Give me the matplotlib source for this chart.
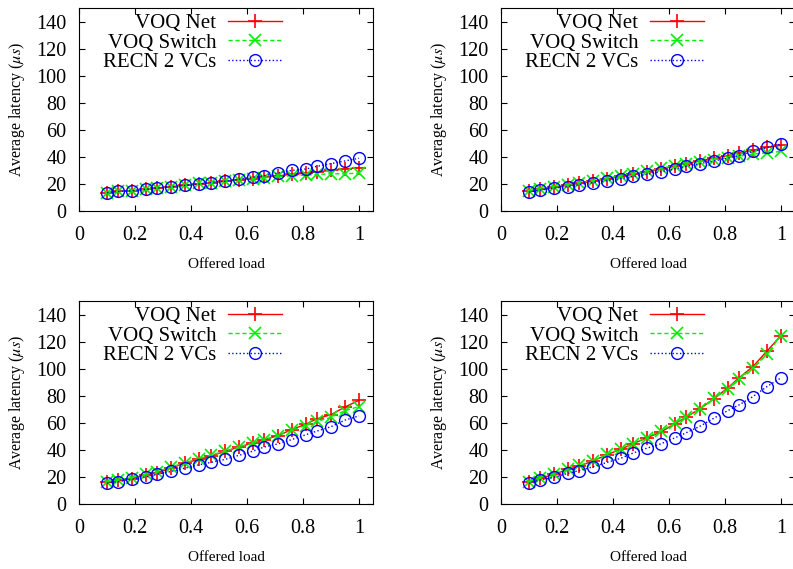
import matplotlib.pyplot as plt

plt.rcParams['font.family'] = ['Liberation Serif', 'DejaVu Serif']
plt.rcParams['mathtext.fontset'] = 'stix'

# offered load
load = [0.10, 0.14, 0.19, 0.24, 0.28, 0.33, 0.38, 0.43, 0.47, 0.52,
        0.57, 0.62, 0.66, 0.71, 0.76, 0.81, 0.85, 0.90, 0.95, 1.00]

# top-left
voq_net_a = [13.5, 14.5, 15, 16, 17, 18, 19, 20, 21, 22,
             23, 24, 25, 26, 27, 28, 29, 30, 31, 32]
voq_sw_a = [13.5, 14.5, 15, 16, 17, 18, 19, 20.5, 21, 22,
            23, 24, 24.5, 25.5, 26, 26.5, 27, 27.5, 27.5, 28]
recn_a = [13.5, 14.5, 15, 16, 17, 18, 19, 20, 21, 22,
          23.5, 25, 26, 28, 30, 31, 33, 35, 37, 39]

# top-right
voq_net_b = [14.5, 16, 17.5, 19, 20.5, 22, 24, 25.5, 27, 29,
             31, 33, 35, 37, 39, 41, 43, 45, 47, 48.5]
voq_sw_b = [15, 16.5, 18, 19.5, 21, 22.5, 24.5, 26, 27.5, 29.5,
            31.5, 33.5, 35, 36.5, 38, 39.5, 40.5, 42, 43, 44]
recn_b = [14, 15.5, 17, 18, 19.5, 21, 22.5, 24, 25.5, 27,
          29, 31, 33, 35, 37, 39, 41, 44, 47, 49.5]

# bottom-left
voq_net_c = [15.9, 17.6, 18.8, 21.7, 23.2, 26.6, 30.5, 33, 35.4, 38.8,
             42, 45, 47.3, 50.5, 55, 59, 63, 66, 71.7, 76.6]
voq_sw_c = [16.5, 18, 19.5, 22, 24, 27.5, 30.5, 33.5, 36, 39,
            42, 45, 47.5, 50.5, 54.5, 58, 61, 64, 69, 72]
recn_c = [15.4, 16.5, 18.3, 20, 22, 24.1, 26.6, 29, 30.7, 32.9,
          35.9, 39, 42, 44.4, 47.6, 51.2, 53.9, 57.1, 62, 65.1]

# bottom-right
voq_net_d = [16, 19, 22, 25.6, 28, 32, 36.5, 40.7, 44.4, 48.8,
             53, 59.2, 64, 70.3, 77.7, 85.8, 93.2, 101.6, 113, 124.5]
voq_sw_d = [16.5, 19.5, 22.5, 26, 28.5, 32, 37, 41, 44.5, 49,
            54, 59.5, 64.5, 70, 78, 85, 92, 100.5, 111, 124.5]
recn_d = [15.3, 17.8, 19.7, 22.7, 24.7, 27.6, 30.8, 34, 37.5, 41.2,
          44.4, 48.8, 52.5, 57.4, 63.4, 69, 73.2, 79.4, 86.8, 93.2]

panels = [
    (voq_net_a, voq_sw_a, recn_a),
    (voq_net_b, voq_sw_b, recn_b),
    (voq_net_c, voq_sw_c, recn_c),
    (voq_net_d, voq_sw_d, recn_d),
]

W, H = 793, 569
fig = plt.figure(figsize=(W / 100, H / 100), dpi=100)

# axes boxes in pixels: left, top, width, height
boxes = [(79, 8, 294, 203), (501, 8, 294, 203),
         (79, 301, 294, 203), (501, 301, 294, 203)]

for (net, sw, recn), (l, t, w, h) in zip(panels, boxes):
    ax = fig.add_axes([l / W, (H - t - h) / H, w / W, h / H])
    ax.plot(load, net, color='red', linestyle='-', marker='+',
            markersize=10, markeredgewidth=1.2, linewidth=1, label='VOQ Net')
    ax.plot(load, sw, color='#00ee00', linestyle='--', dashes=(3, 2), marker='x',
            markersize=8.5, markeredgewidth=1.2, linewidth=1, label='VOQ Switch')
    ax.plot(load, recn, color='blue', linestyle=':', marker='o',
            markerfacecolor='none', markersize=8.5, markeredgewidth=1,
            linewidth=1, label='RECN 2 VCs')
    ax.set_xlim(0, 1.05)
    ax.set_ylim(0, 150)
    ax.set_xticks([0, 0.2, 0.4, 0.6, 0.8, 1])
    ax.set_xticklabels(['0', '0.2', '0.4', '0.6', '0.8', '1'])
    ax.set_yticks(range(0, 141, 20))
    ax.tick_params(direction='in', top=True, right=True, length=4,
                   labelsize=14.5)
    ax.tick_params(axis='x', pad=11)
    ax.tick_params(axis='y', pad=9)
    ax.set_xlabel('Offered load', fontsize=11, labelpad=9)
    ax.set_ylabel(r'Average latency ($\mu s$)', fontsize=11.5, labelpad=7)
    ax.legend(loc='upper right', bbox_to_anchor=(0.74, 1.045), frameon=False,
              markerfirst=False, fontsize=15, handlelength=2.6,
              labelspacing=0.0, handletextpad=0.55, borderpad=0.2)

fig.savefig('out.png', dpi=100)
